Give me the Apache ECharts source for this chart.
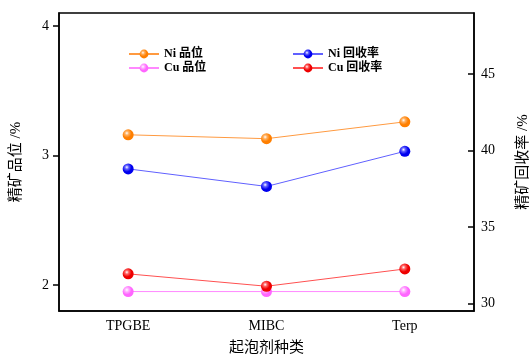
<!DOCTYPE html>
<html><head><meta charset="utf-8">
<script src="https://cdn.jsdelivr.net/npm/echarts@6/dist/echarts.min.js"></script>
<style>html,body{margin:0;padding:0;background:#fff}#c{width:532px;height:360px}</style>
</head><body><div id="c"></div>
<script>
const categories = ['TPGBE', 'MIBC', 'Terp'];
const niGrade = [3.16, 3.13, 3.26];
const cuGrade = [1.95, 1.95, 1.95];
const niRecovery = [38.8, 37.65, 39.95];
const cuRecovery = [31.93, 31.12, 32.25];
const leftTicks = [2, 3, 4];
const rightTicks = [30, 35, 40, 45];

const serif = '"Liberation Serif","Noto Sans CJK SC",serif';
function ball(c, light) {
  return {type:'radial', x:0.38, y:0.35, r:0.7, colorStops:[{offset:0,color:'#ffffff'},{offset:0.25,color:light},{offset:0.6,color:c},{offset:1,color:c}]};
}
function mk(name, data, yIdx, c, light, lineC) {
  return {name, type:'line', data, yAxisIndex:yIdx, symbol:'circle', symbolSize:11,
    lineStyle:{color:lineC, width:1}, itemStyle:{color:ball(c, light), borderWidth:0}, z: 3};
}
const chart = echarts.init(document.getElementById('c'));
const legText = {fontFamily:serif, fontWeight:'bold', fontSize:12, color:'#000'};
chart.setOption({
  animation:false,
  grid:{left:59, right:58, top:13, bottom:49, show:true, borderColor:'#000', borderWidth:1.5, backgroundColor:'transparent', containLabel:false, outerBoundsMode:'none'},
  legend:[
    {data:['Ni 品位','Cu 品位'], orient:'vertical', left:123, top:43, itemGap:2, itemWidth:30, itemHeight:11, textStyle:legText},
    {data:['Ni 回收率','Cu 回收率'], orient:'vertical', left:287, top:43, itemGap:2, itemWidth:30, itemHeight:11, textStyle:legText}
  ],
  xAxis:{type:'category', data:categories, boundaryGap:true,
    name:'起泡剂种类', nameLocation:'middle', nameGap:30,
    nameTextStyle:{fontFamily:serif, fontSize:15, color:'#000'},
    axisLine:{lineStyle:{color:'#000', width:1.5}},
    axisTick:{alignWithLabel:true, length:6, lineStyle:{color:'#000', width:1.5}},
    axisLabel:{fontFamily:serif, fontSize:14, color:'#000', margin:8}},
  yAxis:[
    {type:'value', min:1.8, max:4.1, position:'left',
     name:'精矿品位 /%', nameLocation:'middle', nameGap:35, nameRotate:90,
     nameTextStyle:{fontFamily:serif, fontSize:15, color:'#000'},
     splitLine:{show:false},
     axisLine:{show:true, lineStyle:{color:'#000', width:1.5}},
     axisTick:{show:true, customValues:leftTicks, length:6, lineStyle:{color:'#000', width:1.5}},
     axisLabel:{customValues:leftTicks, fontFamily:serif, fontSize:14, color:'#000', margin:10}},
    {type:'value', min:29.5, max:49, position:'right',
     name:'精矿回收率 /%', nameLocation:'middle', nameGap:42, nameRotate:90,
     nameTextStyle:{fontFamily:serif, fontSize:15, color:'#000'},
     splitLine:{show:false},
     axisLine:{show:true, lineStyle:{color:'#000', width:1.5}},
     axisTick:{show:true, inside:true, customValues:rightTicks, length:6, lineStyle:{color:'#000', width:1.5}},
     axisLabel:{customValues:rightTicks, fontFamily:serif, fontSize:14, color:'#000', margin:7}}
  ],
  series:[
    mk('Ni 品位', niGrade, 0, '#ff7f00', '#ffb060', '#ff9a40'),
    mk('Cu 品位', cuGrade, 0, '#ff66ff', '#ffb0ff', '#ff88ff'),
    mk('Ni 回收率', niRecovery, 1, '#0000ee', '#6060ff', '#6060ff'),
    mk('Cu 回收率', cuRecovery, 1, '#ee0000', '#ff6060', '#ff5050')
  ]
});
</script></body></html>
